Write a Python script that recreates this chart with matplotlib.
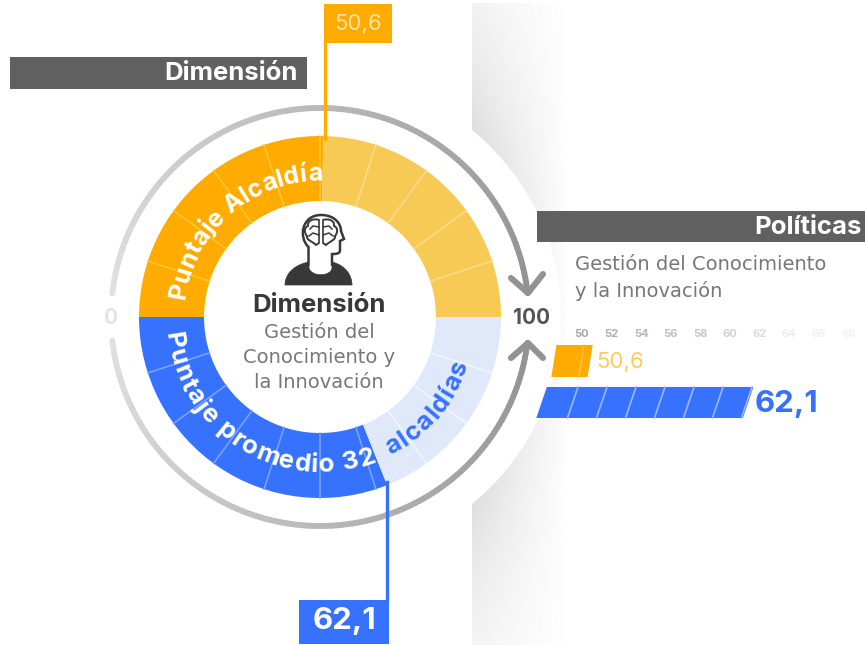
import numpy as np
import matplotlib
matplotlib.use("Agg")
import matplotlib.pyplot as plt
from matplotlib.font_manager import FontProperties
from matplotlib.patches import Wedge, Circle, Rectangle, Polygon, PathPatch
from matplotlib.path import Path
from matplotlib.textpath import text_to_path

# values
dimension_name = ["Gestión del", "Conocimiento y", "la Innovación"]
policy_name = ["Gestión del Conocimiento", "y la Innovación"]
score_mayor = 50.6
score_average = 62.1
score_labels = ["50,6", "62,1"]
ring_ticks = [0, 10, 20, 30, 40, 50, 60, 70, 80, 90, 100]
bar_ticks = [50, 52, 54, 56, 58, 60, 62, 64, 66, 68]
bar_tick_colors = ["#a8a8a8", "#b0b0b0", "#b8b8b8", "#c0c0c0", "#c8c8c8", "#d0d0d0",
                   "#dcdcdc", "#ececec", "#f0f0f0", "#f2f2f2"]

FONT = "Inter"
BODY = "DejaVu Sans"
ORANGE = "#ffab00"
YELLOW = "#f7c955"
BLUE = "#3772ff"
PALE_BLUE = "#e0e9f9"
CX, CY = 320, 317
R_OUT, R_IN = 181, 116

plt.rcParams["font.family"] = [FONT, "DejaVu Sans"]


def top_angle(v):
    return 180 - v * 1.8


def bottom_angle(v):
    return 180 + v * 1.8


def pol(r, a):
    return CX + r * np.cos(np.radians(a)), CY - r * np.sin(np.radians(a))


def wedge(a1, a2, color):
    # the y axis is flipped, so the math angles are mirrored here
    ax.add_patch(Wedge((CX, CY), R_OUT, -a2, -a1, width=R_OUT - R_IN, fc=color, ec="none", zorder=3))


def spoke(a, color):
    x1, y1 = pol(R_IN, a)
    x2, y2 = pol(R_OUT, a)
    ax.plot([x1, x2], [y1, y2], color=color, lw=1.1, zorder=4)


def curved(s, r, start, size, color, weight, clockwise, spacing=0.0):
    prop = FontProperties(family=FONT, size=size, weight=weight)
    width = lambda t: text_to_path.get_text_width_height_descent(t, prop, False)[0] * 100 / 72
    sign = -1 if clockwise else 1
    for i, ch in enumerate(s):
        pos = width(s[:i]) + width(ch) / 2 + spacing * i
        a = start + sign * np.degrees(pos / r)
        x, y = pol(r, a)
        rot = a - 90 if clockwise else a + 90
        ax.text(x, y, ch, fontproperties=prop, color=color, rotation=rot, rotation_mode="anchor",
                ha="center", va="baseline", zorder=6)


def gradient_arc(a1, a2, c1, c2):
    angles = np.linspace(a1, a2, 120)
    for i in range(len(angles) - 1):
        t = i / (len(angles) - 2)
        g = c1 + (c2 - c1) * t
        x, y = pol(209, angles[i:i + 2])
        ax.plot(x, y, color=(g, g, g), lw=4.2, solid_capstyle="round", zorder=2)


def slanted_bar(v_from, v_to, y, h, x50, unit, skew, color):
    def xpos(v, yy):
        return x50 + (v - 50) * unit + skew * (y - yy)
    pts = [(xpos(v_from, y), y), (xpos(v_to, y), y), (xpos(v_to, y + h), y + h), (xpos(v_from, y + h), y + h)]
    ax.add_patch(Polygon(pts, fc=color, ec="none", zorder=3))
    return xpos


fig = plt.figure(figsize=(8.65, 6.45), dpi=100)
ax = fig.add_axes([0, 0, 1, 1])
ax.set_xlim(0, 865)
ax.set_ylim(645, 0)
ax.axis("off")

# grey shadow behind the ring
xx, yy = np.meshgrid(np.linspace(472, 575, 110), np.linspace(3, 645, 320))
edge = np.clip(1 - (np.hypot(xx - CX, yy - CY) - 241) / 150, 0, 1)
fade = np.clip(1 - (xx - 472) / 98, 0, 1) ** 0.8
shade = 1 - fade * (0.04 + 0.09 * edge ** 1.5)
ax.imshow(shade, extent=(472, 575, 645, 3), cmap="gray", vmin=0, vmax=1, aspect="auto", zorder=0)
ax.set_xlim(0, 865)
ax.set_ylim(645, 0)
ax.add_patch(Circle((CX, CY), 241, fc="white", ec="none", zorder=1))

# outer grey arcs with arrow heads
gradient_arc(173.5, 6.6, 0.88, 0.57)
gradient_arc(186.5, 352.9, 0.88, 0.57)
for tip, wings in [((528, 293), [(511, 278), (543, 274)]), ((528, 343), [(511, 358), (543, 358)])]:
    ax.plot([wings[0][0], tip[0], wings[1][0]], [wings[0][1], tip[1], wings[1][1]], color="#929292",
            lw=4.4, solid_capstyle="round", solid_joinstyle="round", zorder=2)
ax.text(111, 318, str(ring_ticks[0]), color="#e4e4e4", fontsize=15, weight="bold", ha="center", va="center")
ax.text(531, 318, str(ring_ticks[-1]), color="#555555", fontsize=15, weight="bold", ha="center", va="center")

# ring
wedge(top_angle(score_mayor), top_angle(0), ORANGE)
wedge(top_angle(100), top_angle(score_mayor), YELLOW)
wedge(bottom_angle(0), bottom_angle(score_average), BLUE)
wedge(bottom_angle(score_average), bottom_angle(100), PALE_BLUE)
for t in ring_ticks[1:-1]:
    spoke(top_angle(t), "#ffc933" if t <= score_mayor else "#f9dc90")
    spoke(bottom_angle(t), "#7ea5ff" if t <= score_average else "#f2f6fd")

curved("Puntaje Alcaldía", 136, 173, 18, "white", "bold", True, spacing=0.15)
curved("Puntaje promedio 32", 155, 186, 18.5, "white", "bold", False, spacing=1.4)
curved("alcaldías", 155, 297, 18.5, BLUE, "bold", False, spacing=1.5)

# centre icon
shoulders = Path([(285, 285), (285, 272), (297, 264), (309, 262), (309, 268), (311, 277), (331, 277), (332, 268),
                  (332, 262), (345, 265), (352, 275), (352, 285), (285, 285)],
                 [1, 4, 4, 4, 2, 4, 4, 4, 2, 4, 4, 4, 79])
ax.add_patch(PathPatch(shoulders, fc="#383838", ec="#383838", lw=0.5, zorder=5))
head = Path([(308.5, 266), (308.5, 247), (298, 237), (302, 215), (321, 215), (335, 215), (341, 224), (341, 231),
             (344, 239), (340, 241), (340, 250), (340, 254), (336, 254), (332, 254), (332, 266)],
            [1, 2, 4, 4, 4, 4, 4, 4, 2, 2, 2, 4, 4, 4, 2])
ax.add_patch(PathPatch(head, fc="white", ec="#383838", lw=1.8, zorder=5))
# brain lobes, the right one mirrors the left around x=321
lobe = [(319, 220), (313, 218), (307, 221), (308, 226), (303, 228), (305, 234), (307, 236), (306, 240), (312, 241), (316, 245), (319, 243)]
for side in (-1, 1):
    pts = [(321 + side * (321 - x), y) for x, y in lobe]
    ax.add_patch(PathPatch(Path(pts, [1] + [4, 4, 4] * 3 + [2]), fc="none", ec="#383838", lw=1.4, zorder=6))
    ax.plot([321 + side * 2, 321 + side * 2], [220, 243], color="#383838", lw=1.2, zorder=6)
    ax.plot([321 + side * 2, 321 + side * 8, 321 + side * 11], [227, 226, 229], color="#383838", lw=1.1, zorder=6)
    ax.plot([321 + side * 2, 321 + side * 8, 321 + side * 12], [235, 233, 236], color="#383838", lw=1.1, zorder=6)

# centre text
ax.text(319, 306, "Dimensión", color="#383838", fontsize=18.5, weight="bold", ha="center", va="center", zorder=6)
for i, line in enumerate(dimension_name):
    ax.text(319, 333 + i * 24.5, line, color="#777777", fontsize=14, family=BODY, ha="center", va="center", zorder=6)

# header bands
ax.add_patch(Rectangle((10, 57), 297, 32, fc="#606060", ec="none", zorder=3))
ax.text(298, 73.5, "Dimensión", color="white", fontsize=18.5, weight="bold", ha="right", va="center", zorder=4)
ax.add_patch(Rectangle((537, 211), 328, 31, fc="#606060", ec="none", zorder=3))
ax.text(862, 228, "Políticas", color="white", fontsize=18.5, weight="bold", ha="right", va="center", zorder=4)

# callouts from the ring
mx, my = pol(R_OUT, top_angle(score_mayor))
ax.plot([mx + 1.5, mx + 1.5], [my + 3, 43], color=ORANGE, lw=2.4, zorder=5)
ax.add_patch(Rectangle((324, 4), 68, 39, fc=ORANGE, ec="none", zorder=5))
ax.text(358, 24, score_labels[0], color="#ffe3a6", fontsize=16, ha="center", va="center", zorder=6)
bx, by = pol(R_OUT, bottom_angle(score_average))
ax.plot([bx, bx], [by - 3, 601], color=BLUE, lw=2.4, zorder=5)
ax.add_patch(Rectangle((299, 600), 90, 44, fc=BLUE, ec="none", zorder=5))
ax.text(344, 621, score_labels[1], color="white", fontsize=22.5, weight="bold", ha="center", va="center", zorder=6)

# policy panel
for i, line in enumerate(policy_name):
    ax.text(575, 265 + i * 26, line, color="#777777", fontsize=14, family=BODY, ha="left", va="center", zorder=4)
for t, c in zip(bar_ticks, bar_tick_colors):
    ax.text(582 + (t - 50) * 14.8, 334, str(t), color=c, fontsize=8, weight="bold", ha="center", va="center", zorder=4)

xf = slanted_bar(48.1, score_mayor, 345, 32, 584, 14.5, 0.16, ORANGE)
ax.plot([xf(50, 345), xf(50, 377)], [345, 377], color="#ffc933", lw=1.0, zorder=4)
xb = slanted_bar(47.85, score_average, 387, 31, 578, 14.5, 0.34, BLUE)
for t in bar_ticks:
    if t < score_average:
        ax.plot([xb(t, 387), xb(t, 418)], [387, 418], color="#9ab8ff", lw=1.2, zorder=4)
ax.text(596, 362, score_labels[0], color="#ffca5c", fontsize=16, ha="left", va="center", zorder=4)
ax.text(755, 404, score_labels[1], color=BLUE, fontsize=22.5, weight="bold", ha="left", va="center", zorder=4)

fig.savefig("out.png", dpi=100, facecolor="white")
